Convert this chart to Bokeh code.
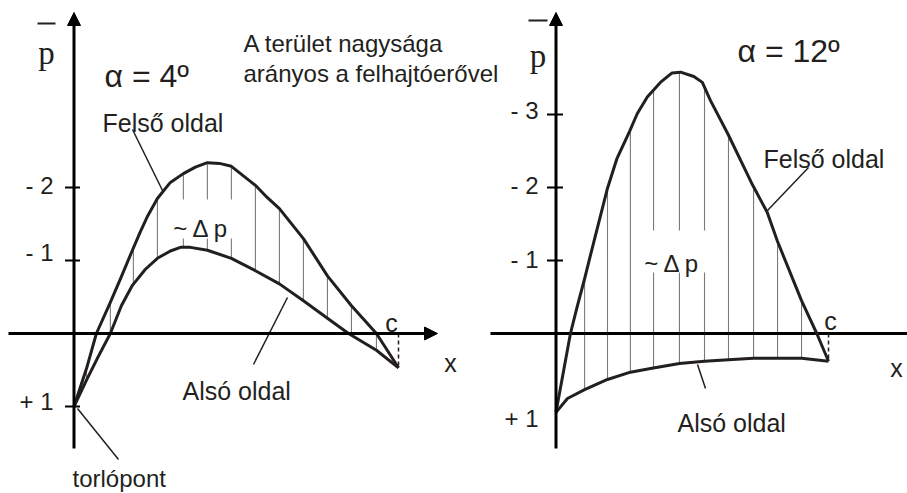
import numpy as np
from bokeh.plotting import figure
from bokeh.models import Range1d, Arrow, NormalHead
from bokeh.embed import file_html
from bokeh.resources import INLINE
from bokeh.core.properties import value

# ---------------- data (x/c along chord, p-bar pressure coefficient) ----------------
# alpha = 4 deg
l_up_xc = [0.0, 0.0385, 0.069, 0.112, 0.146, 0.180, 0.205, 0.227, 0.257, 0.297, 0.337, 0.374,
           0.411, 0.448, 0.485, 0.522, 0.559, 0.596, 0.633, 0.707, 0.781, 0.855, 0.932, 1.0]
l_up_p = [1.0, 0.48, 0.0, -0.425, -0.78, -1.14, -1.40, -1.61, -1.85, -2.07, -2.19, -2.28,
          -2.34, -2.33, -2.29, -2.16, -2.03, -1.86, -1.71, -1.30, -0.79, -0.38, 0.0, 0.47]
l_lo_xc = [0.0, 0.0385, 0.0755, 0.112, 0.146, 0.180, 0.22, 0.257, 0.297, 0.328, 0.359,
           0.411, 0.485, 0.559, 0.633, 0.707, 0.781, 0.846, 0.932, 1.0]
l_lo_p = [1.0, 0.64, 0.31, 0.0, -0.38, -0.66, -0.88, -1.03, -1.13, -1.18, -1.18,
          -1.14, -1.03, -0.86, -0.68, -0.45, -0.21, 0.0, 0.23, 0.47]
l_hatch_xc = [0.0385, 0.112, 0.183, 0.257, 0.337, 0.411, 0.485, 0.559, 0.633, 0.707, 0.781, 0.855, 0.932]
l_ticks = [-2, -1, 1]
l_tick_labels = ["- 2", "- 1", "+ 1"]

# alpha = 12 deg
r_up_xc = [0.0, 0.053, 0.078, 0.105, 0.127, 0.189, 0.224, 0.270, 0.298, 0.335, 0.383, 0.426,
           0.457, 0.506, 0.537, 0.567, 0.630, 0.722, 0.775, 0.812, 0.901, 0.957, 1.0]
r_up_p = [1.08, 0.0, -0.37, -0.75, -1.08, -1.99, -2.40, -2.77, -3.01, -3.24, -3.44, -3.57,
          -3.58, -3.52, -3.44, -3.19, -2.74, -2.03, -1.66, -1.27, -0.45, 0.0, 0.38]
r_lo_xc = [0.0, 0.042, 0.105, 0.189, 0.273, 0.347, 0.453, 0.545, 0.633, 0.725, 0.813, 0.901, 1.0]
r_lo_p = [1.08, 0.89, 0.77, 0.63, 0.53, 0.48, 0.41, 0.38, 0.36, 0.34, 0.34, 0.34, 0.38]
r_hatch_xc = [0.105, 0.189, 0.273, 0.358, 0.453, 0.545, 0.633, 0.725, 0.813, 0.901]
r_ticks = [-3, -2, -1]
r_tick_labels = ["- 3", "- 2", "- 1"]

# ---------------- layout ----------------
W, H = 907, 493
Y0, UNIT = 333.0, 73.0          # pixel row of p=0 and pixels per unit


def py(ref_y):
    return (ref_y - Y0) / UNIT


LX0, LC = 73.5, 324.5           # left panel origin / chord length (px)
RX0, RC = 555.5, 272.5          # right panel origin / chord length (px)


def lx(v):
    return LX0 + LC * np.asarray(v, dtype=float)


def rx(v):
    return RX0 + RC * np.asarray(v, dtype=float)


INK = "#231f20"
FONT = value("Liberation Sans")
SERIF = value("Liberation Serif")

p = figure(width=W, height=H, x_range=Range1d(0, W), y_range=Range1d(py(H), py(0)),
           output_backend="svg", toolbar_location=None, min_border=0)
p.axis.visible = False
p.grid.visible = False
p.outline_line_color = None
p.background_fill_color = "white"
p.border_fill_color = "white"

# ---------------- hatch lines ----------------
for X, uxc, up, lxc, lp, hxc in [(lx, l_up_xc, l_up_p, l_lo_xc, l_lo_p, l_hatch_xc),
                                 (rx, r_up_xc, r_up_p, r_lo_xc, r_lo_p, r_hatch_xc)]:
    hx = X(hxc)
    top = np.interp(hxc, uxc, up)
    bot = np.interp(hxc, lxc, lp)
    p.segment(x0=hx, y0=top, x1=hx, y1=bot, line_color="#7a7a7a", line_width=1.1)

# white boxes behind "~ Δ p"
p.quad(left=[160, 636], right=[250, 712], top=[py(199), py(230)], bottom=[py(238), py(272)],
       fill_color="white", line_color=None)

# ---------------- axes ----------------
for ax in [LX0, RX0]:
    p.add_layout(Arrow(end=NormalHead(size=13, fill_color="black", line_color="black", line_width=1),
                       x_start=ax, y_start=py(448), x_end=ax, y_end=py(12),
                       line_color="black", line_width=3))
p.add_layout(Arrow(end=NormalHead(size=13, fill_color="black", line_color="black", line_width=1),
                   x_start=8, y_start=0, x_end=437, y_end=0, line_color="black", line_width=3))
p.line(x=[490, W], y=[0, 0], line_color="black", line_width=3)

# ticks
p.segment(x0=[LX0 - 9] * 3, y0=l_ticks, x1=[LX0 + 6] * 3, y1=l_ticks, line_color="black", line_width=2)
p.segment(x0=[RX0 - 9] * 3, y0=r_ticks, x1=[RX0 + 7] * 3, y1=r_ticks, line_color="black", line_width=2)
p.text(x=[53] * 3, y=l_ticks, text=l_tick_labels, y_offset=[-2, -8, -5],
       text_font=FONT, text_font_size="24px", text_align="right", text_baseline="middle", text_color=INK)
p.text(x=[538] * 3, y=r_ticks, text=r_tick_labels, y_offset=[-4, -2, -1],
       text_font=FONT, text_font_size="24px", text_align="right", text_baseline="middle", text_color=INK)
p.text(x=[538], y=[py(418)], text=["+ 1"],
       text_font=FONT, text_font_size="24px", text_align="right", text_baseline="middle", text_color=INK)

# p-bar labels
p.text(x=[46, 537.5], y=[py(52), py(55)], text=["p", "p"], text_font=SERIF, text_font_size="33px",
       text_align="center", text_baseline="alphabetic", text_color=INK)
p.segment(x0=[37, 528], y0=[py(23), py(20)], x1=[55, 547], y1=[py(23), py(20)],
          line_color=INK, line_width=2)

# ---------------- curves ----------------
p.line(x=lx(l_up_xc), y=l_up_p, line_color=INK, line_width=3, line_join="round")
p.line(x=lx(l_lo_xc), y=l_lo_p, line_color=INK, line_width=3, line_join="round")
p.line(x=rx(r_up_xc), y=r_up_p, line_color=INK, line_width=3, line_join="round")
p.line(x=rx(r_lo_xc), y=r_lo_p, line_color=INK, line_width=3, line_join="round")

# trailing edge dashed lines
p.segment(x0=[lx(1.0), rx(1.0)], y0=[0, 0], x1=[lx(1.0), rx(1.0)], y1=[l_up_p[-1], r_up_p[-1]],
          line_color=INK, line_width=1.5, line_dash="4 3")

# leader lines
p.segment(x0=[132, 287, 77, 808, 697], y0=[py(129), py(297), py(408), py(167), py(364)],
          x1=[162, 253, 118, 767, 705], y1=[py(190), py(364), py(459), py(210), py(388)],
          line_color=INK, line_width=1.5)


# ---------------- texts ----------------
def txt(x, y_ref, s, size, align="left", font=FONT, color=INK):
    p.text(x=[x], y=[py(y_ref)], text=[s], text_font=font, text_font_size=size,
           text_align=align, text_baseline="alphabetic", text_color=color)


txt(104, 75, "α = 4º", "32px")
txt(737, 50, "α = 12º", "32px")
txt(243, 43, "A terület nagysága", "24px")
txt(243, 73, "arányos a felhajtóerővel", "24px")
txt(102, 122, "Felső oldal", "25px")
txt(763, 158, "Felső oldal", "25px")
txt(182, 390, "Alsó oldal", "25px")
txt(677, 422, "Alsó oldal", "25px")
txt(72, 478, "torlópont", "24px")
txt(201, 228, "~ Δ p", "24px", align="center")
txt(672, 263, "~ Δ p", "24px", align="center")
txt(391, 322, "c", "25px", align="center")
txt(830, 320, "c", "25px", align="center")
txt(450, 362, "x", "25px", align="center")
txt(896, 367, "x", "25px", align="center")

open("out.html", "w").write(file_html(p, INLINE))
